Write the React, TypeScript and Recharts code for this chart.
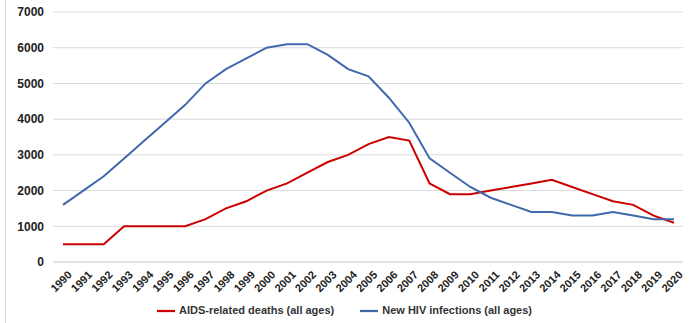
import { CartesianGrid, Legend, Line, LineChart, XAxis, YAxis } from 'recharts'

// Years on the category axis.
const years = [
  '1990', '1991', '1992', '1993', '1994', '1995', '1996', '1997', '1998', '1999',
  '2000', '2001', '2002', '2003', '2004', '2005', '2006', '2007', '2008', '2009',
  '2010', '2011', '2012', '2013', '2014', '2015', '2016', '2017', '2018', '2019', '2020',
]

// AIDS-related deaths per year.
const aidsDeaths = [
  500, 500, 500, 1000, 1000, 1000, 1000, 1200, 1500, 1700,
  2000, 2200, 2500, 2800, 3000, 3300, 3500, 3400, 2200, 1900,
  1900, 2000, 2100, 2200, 2300, 2100, 1900, 1700, 1600, 1300, 1100,
]

// New HIV infections per year.
const newInfections = [
  1600, 2000, 2400, 2900, 3400, 3900, 4400, 5000, 5400, 5700,
  6000, 6100, 6100, 5800, 5400, 5200, 4600, 3900, 2900, 2500,
  2100, 1800, 1600, 1400, 1400, 1300, 1300, 1400, 1300, 1200, 1200,
]

const yTicks = [0, 1000, 2000, 3000, 4000, 5000, 6000, 7000]

const data = years.map((year, i) => ({
  year,
  deaths: aidsDeaths[i],
  infections: newInfections[i],
}))

const FONT = '"Liberation Sans", Arial, sans-serif'

export default function App() {
  return (
    <div
      style={{
        position: 'absolute',
        left: 0,
        top: 0,
        width: 689,
        height: 323,
        background: '#fff',
        fontFamily: FONT,
      }}
    >
      <div
        style={{
          position: 'absolute',
          left: 5,
          top: 0,
          height: 323,
          borderLeft: '1px solid #d9d9d9',
        }}
      />
      <LineChart
        width={689}
        height={323}
        data={data}
        margin={{ top: 12, right: 6, bottom: 3, left: 0 }}
      >
        <CartesianGrid vertical={false} stroke="#d9d9d9" />
        <XAxis
          dataKey="year"
          interval={0}
          padding={{ left: 10, right: 9 }}
          axisLine={{ stroke: '#d9d9d9' }}
          tickLine={false}
          height={40}
          tick={{
            angle: -45,
            textAnchor: 'end',
            fontSize: 11,
            fontWeight: 700,
            fill: '#222',
            fontFamily: FONT,
            dx: 4,
            dy: 0,
          }}
        />
        <YAxis
          domain={[0, 7000]}
          ticks={yTicks}
          width={53}
          axisLine={false}
          tickLine={false}
          tickMargin={3}
          tick={{ fontSize: 12, fontWeight: 700, fill: '#222', fontFamily: FONT }}
        />
        <Legend
          verticalAlign="bottom"
          align="center"
          iconType="plainline"
          iconSize={18}
          wrapperStyle={{ fontSize: 11, fontWeight: 700, fontFamily: FONT, paddingLeft: 16 }}
          formatter={(value) => (
            <span style={{ color: '#333', marginRight: 16 }}>{value}</span>
          )}
        />
        <Line
          type="linear"
          dataKey="deaths"
          name="AIDS-related deaths (all ages)"
          stroke="#cc0000"
          strokeWidth={2}
          dot={false}
          isAnimationActive={false}
        />
        <Line
          type="linear"
          dataKey="infections"
          name="New HIV infections (all ages)"
          stroke="#4068ac"
          strokeWidth={2}
          dot={false}
          isAnimationActive={false}
        />
      </LineChart>
    </div>
  )
}
